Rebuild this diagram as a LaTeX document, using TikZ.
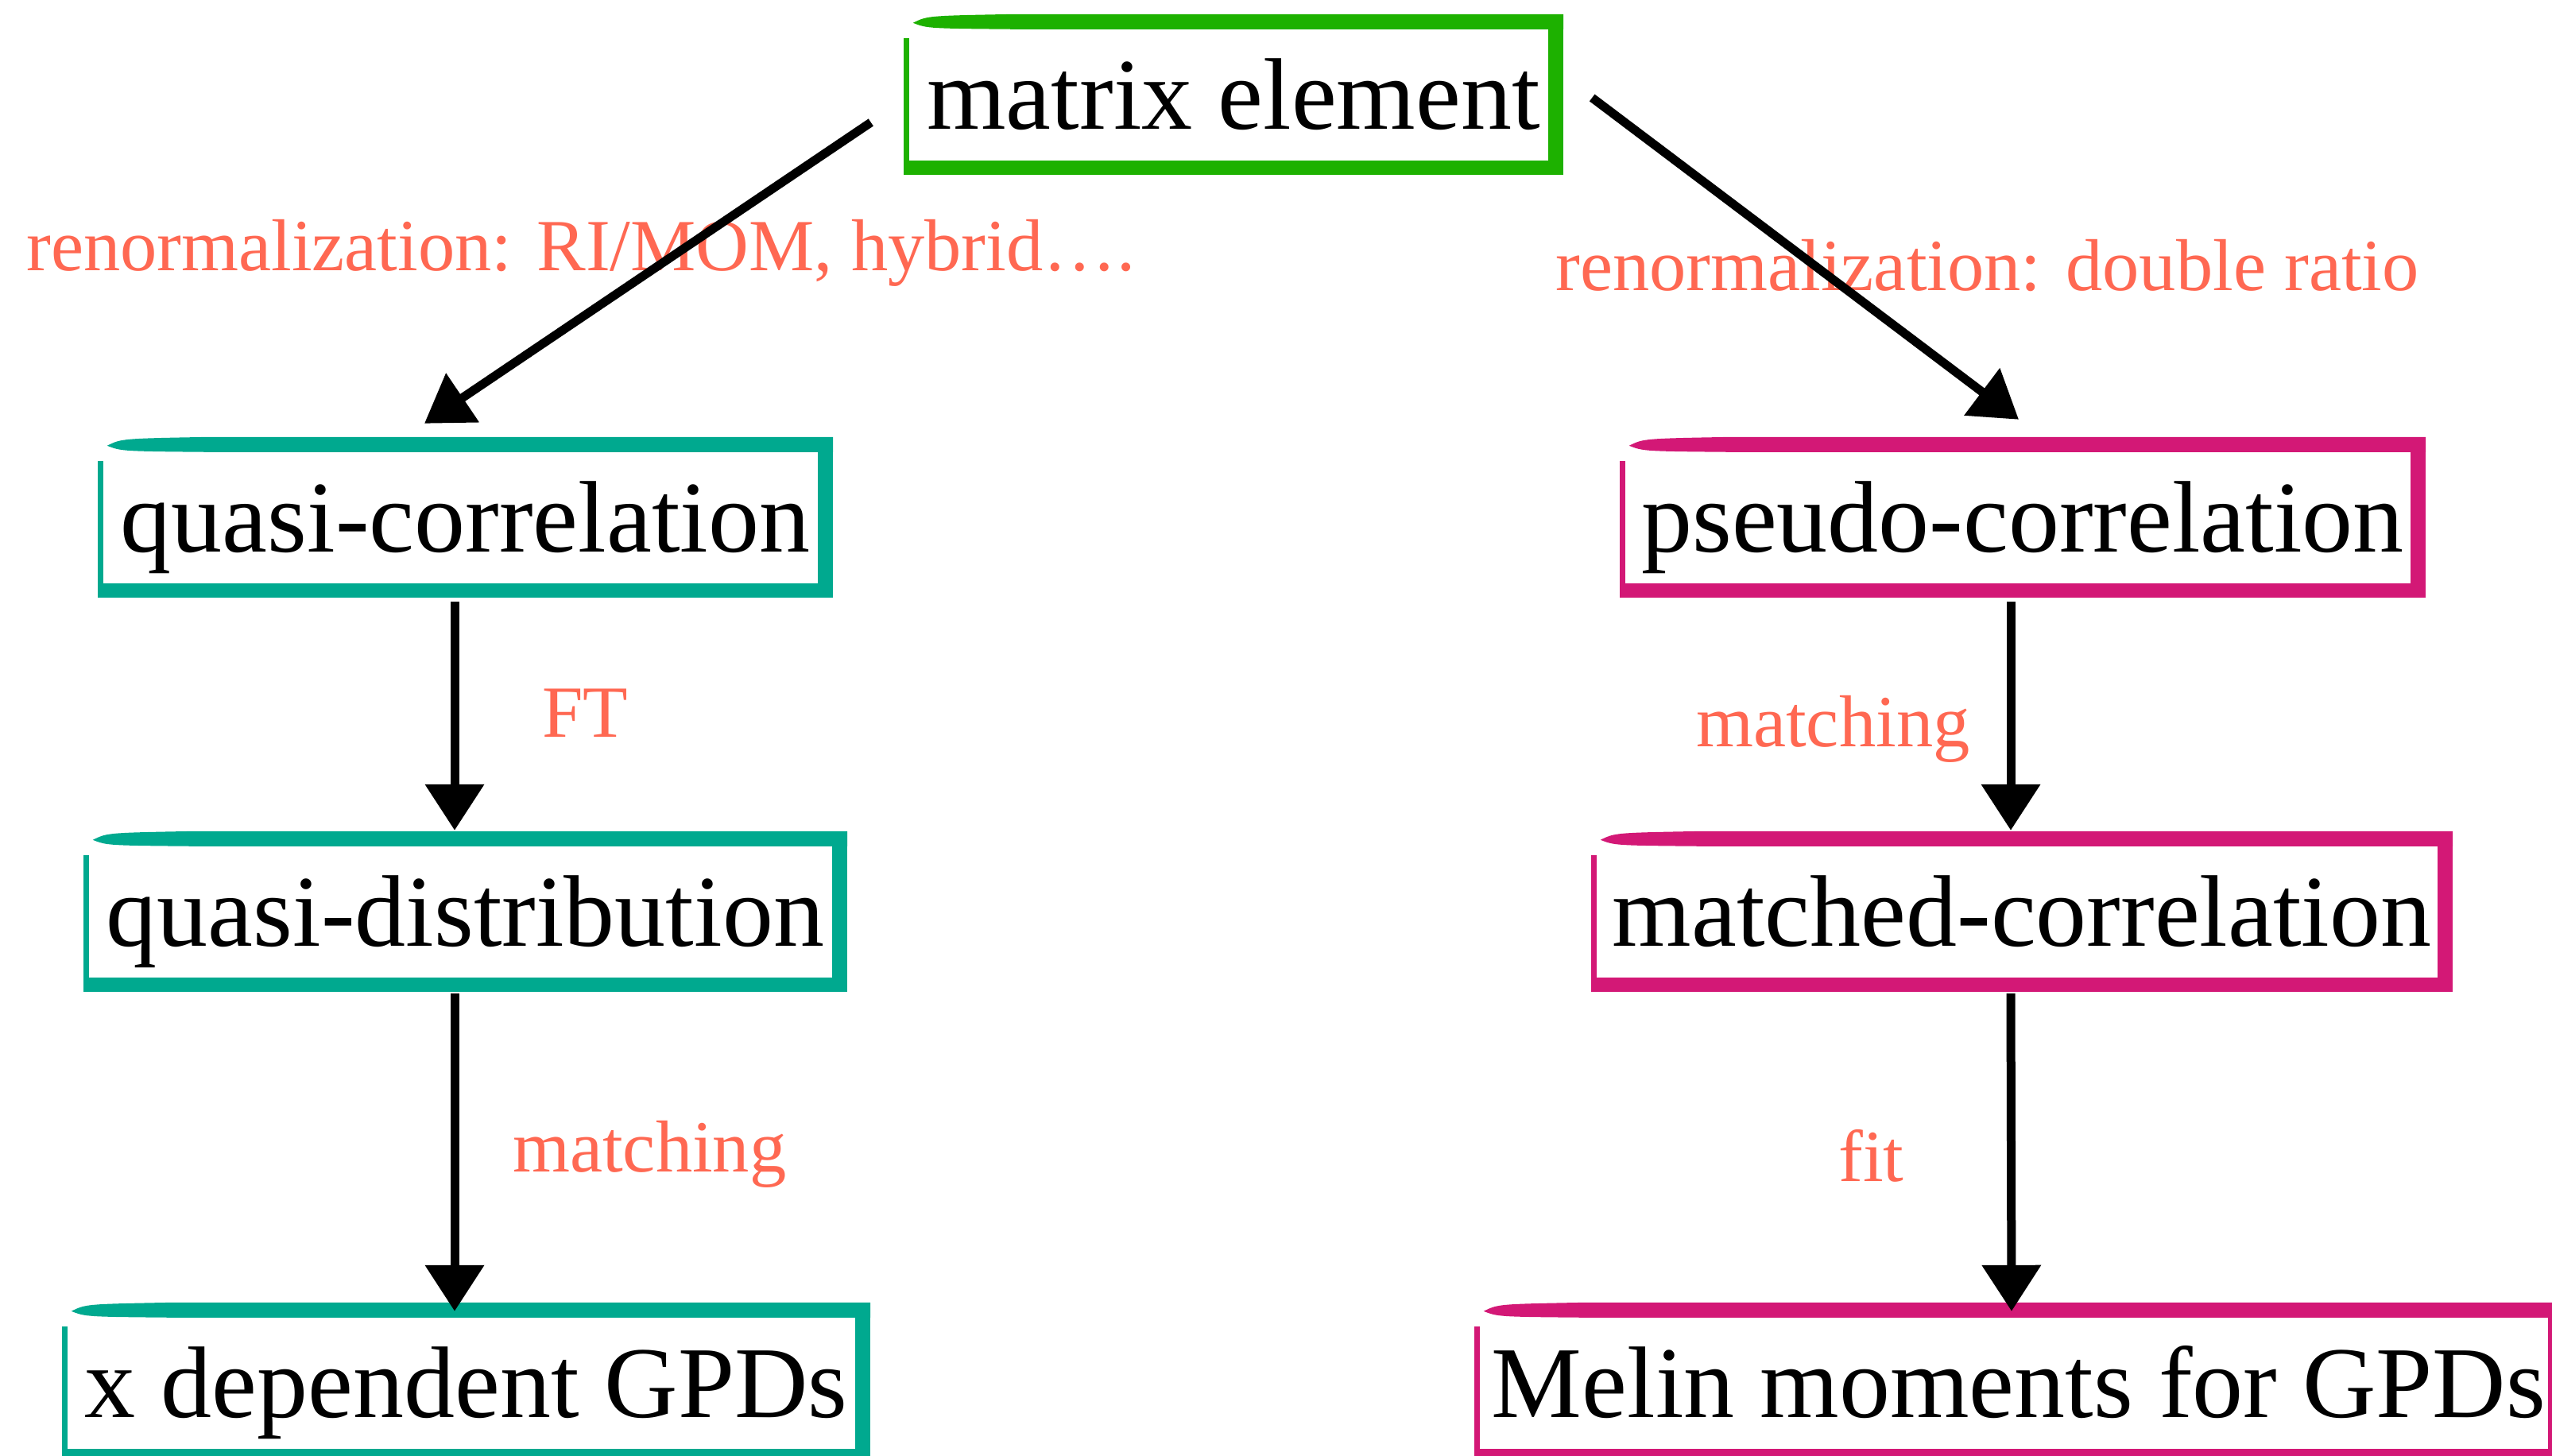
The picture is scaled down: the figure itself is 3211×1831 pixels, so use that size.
\documentclass[tikz,border=0pt]{standalone}
\usepackage{fontspec}
\setmainfont{Liberation Serif}
\usetikzlibrary{arrows.meta}

\definecolor{gbox}{RGB}{29,177,0}
\definecolor{tbox}{RGB}{0,169,143}
\definecolor{mbox}{RGB}{211,24,118}
\definecolor{lblc}{RGB}{255,104,82}

\newcommand\boxfont{\fontsize{128}{150}\selectfont}
\newcommand\lblfont{\fontsize{92.5}{110}\selectfont}

% hand-drawn looking frame around a named node: tapered top stroke,
% heavy right and bottom strokes, thin left stroke
\newcommand\roughframe[2]{%
  \fill[#2] ([xshift=12pt,yshift=-11pt]#1.north west)
     .. controls ([xshift=30pt,yshift=-2pt]#1.north west) .. ([xshift=140pt]#1.north west)
     -- (#1.north east) -- ([yshift=-19pt]#1.north east)
     -- ([xshift=140pt,yshift=-19pt]#1.north west)
     .. controls ([xshift=30pt,yshift=-18pt]#1.north west) .. ([xshift=12pt,yshift=-11pt]#1.north west)
     -- cycle;
  \fill[#2] ([xshift=-19pt]#1.north east) rectangle (#1.south east);
  \fill[#2] ([yshift=18pt]#1.south west) rectangle (#1.south east);
  \fill[#2] ([yshift=-30pt]#1.north west) rectangle ([xshift=7pt]#1.south west);
}

\tikzset{
  stage/.style={rectangle, inner sep=0pt, minimum height=202pt,
                text height=86pt, text depth=0pt, font=\boxfont},
  lbl/.style={anchor=base west, inner sep=0pt, text=lblc, font=\lblfont},
  arr/.style={draw=black, line width=11pt, -{Triangle[length=58pt,width=72pt]}},
}

\begin{document}
\begin{tikzpicture}[x=1pt, y=-1pt]
\useasboundingbox[fill=white] (0,0) rectangle (3211,1831);
\clip (0,0) rectangle (3211,1831);

% stages
\node[stage, minimum width=830pt]  (top) at (1552,119)   {matrix element};
\node[stage, minimum width=925pt]  (qc)  at (585.5,651)  {quasi-correlation};
\node[stage, minimum width=961pt]  (qd)  at (585.5,1147) {quasi-distribution};
\node[stage, minimum width=1017pt] (xg)  at (586.5,1740) {x dependent GPDs};
\node[stage, minimum width=1014pt] (pc)  at (2545,651)   {pseudo-correlation};
\node[stage, minimum width=1084pt] (mc)  at (2544,1147)  {matched-correlation};
\node[stage, minimum width=1370pt] (mm)  at (2540,1740)  {Melin moments for GPDs};

\roughframe{top}{gbox}
\roughframe{qc}{tbox}
\roughframe{qd}{tbox}
\roughframe{xg}{tbox}
\roughframe{pc}{mbox}
\roughframe{mc}{mbox}
\roughframe{mm}{mbox}

% step labels
\node[lbl] (l1) at (33,340)   {renormalization: RI/MOM, hybrid….};
\node[lbl] (l2) at (1957,365) {renormalization: double ratio};
\node[lbl] (l3) at (682,927)  {FT};
\node[lbl] (l4) at (645,1474) {matching};
\node[lbl] (l5) at (2134,939) {matching};
\node[lbl] (l6) at (2313,1486) {fit};

% connectors
\draw[arr] ([xshift=-41pt,yshift=-35pt]top.west) -- ([xshift=-51.5pt,yshift=17pt]qc.north);
\draw[arr] ([xshift=36pt,yshift=-4pt]top.east) -- ([xshift=-5pt,yshift=22pt]pc.north);
\draw[arr] ([xshift=-13.5pt,yshift=-5pt]qc.south) -- ([xshift=-13.5pt,yshift=1pt]qd.north);
\draw[arr] ([xshift=-13.5pt,yshift=-2pt]qd.south) -- ([xshift=-14.5pt,yshift=-11pt]xg.north);
\draw[arr] ([xshift=-15pt,yshift=-5pt]pc.south) -- ([xshift=-14pt,yshift=1pt]mc.north);
\draw[arr] ([xshift=-14pt,yshift=-2pt]mc.south) -- ([xshift=-9pt,yshift=-11pt]mm.north);
\end{tikzpicture}
\end{document}
